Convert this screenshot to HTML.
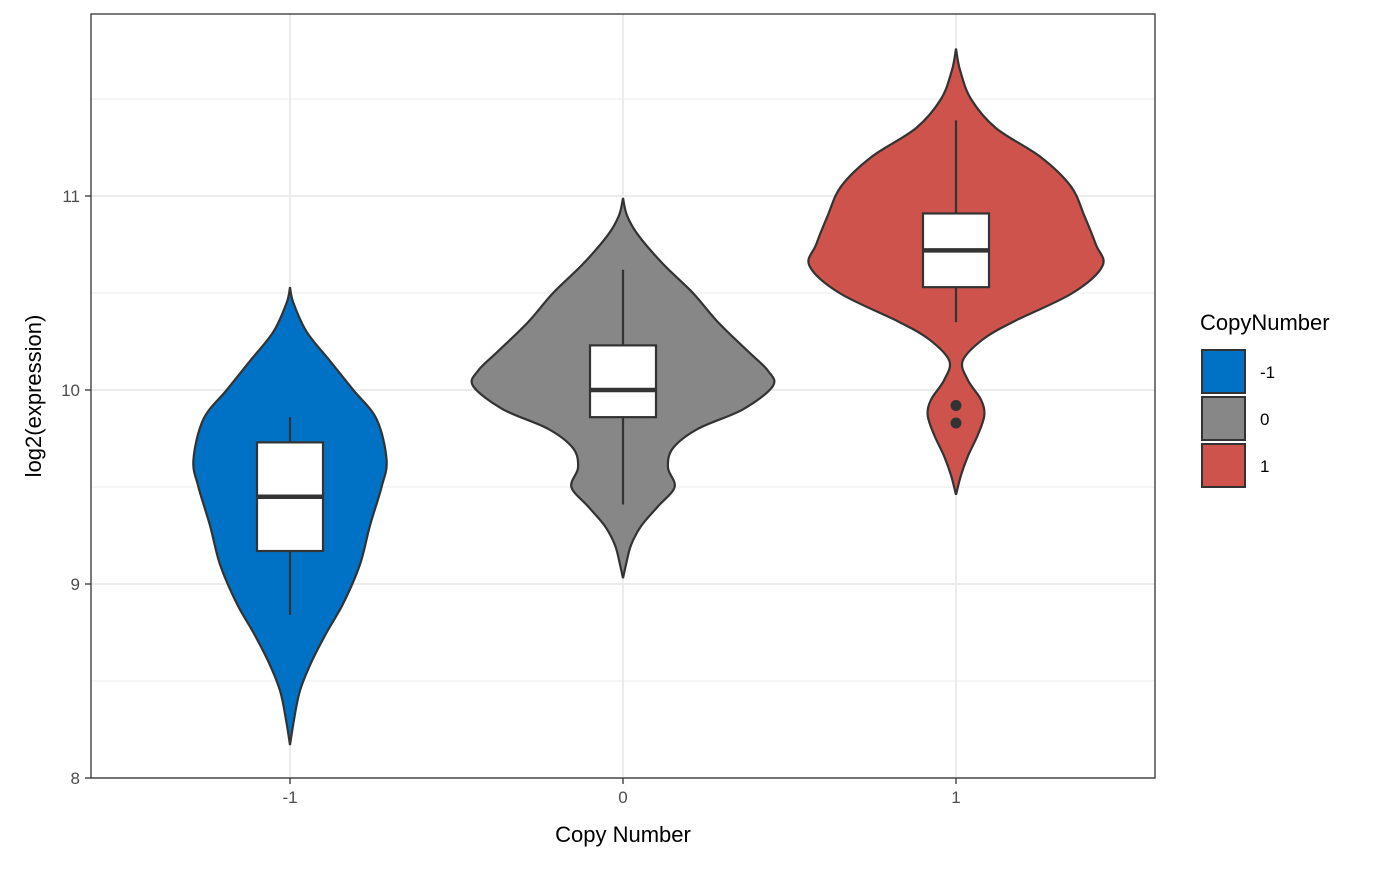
<!DOCTYPE html>
<html><head><meta charset="utf-8"><style>
body{margin:0;background:#fff;}
text{font-family:"Liberation Sans",sans-serif;}
</style></head><body>
<svg id="chart" width="1400" height="865" xmlns="http://www.w3.org/2000/svg"></svg>
<script>
const categories=["-1","0","1"];
const fills=["#0072C6","#878787","#CD534C"];
const yTicks=[8,9,10,11];
// violin profiles: value levels and half-widths (in category units)
const vLevels0=[10.53,10.45,10.3,10.15,10.0,9.85,9.64,9.5,9.3,9.1,8.9,8.75,8.6,8.45,8.3,8.17];
const vWidths0=[0,0.01,0.05,0.12,0.19,0.26,0.29,0.275,0.24,0.21,0.16,0.11,0.065,0.03,0.012,0];
const vLevels1=[10.99,10.9,10.8,10.65,10.5,10.35,10.2,10.1,10.02,9.9,9.8,9.7,9.6,9.5,9.4,9.3,9.2,9.1,9.03];
const vWidths1=[0,0.012,0.045,0.12,0.21,0.285,0.375,0.435,0.45,0.36,0.225,0.15,0.135,0.155,0.105,0.055,0.024,0.009,0];
const vLevels2=[11.76,11.65,11.5,11.35,11.2,11.05,10.9,10.75,10.64,10.5,10.35,10.26,10.15,10.05,9.95,9.87,9.77,9.66,9.56,9.46];
const vWidths2=[0,0.012,0.045,0.12,0.255,0.345,0.385,0.42,0.44,0.35,0.17,0.08,0.02,0.036,0.075,0.085,0.066,0.036,0.015,0];
const q1=[9.17,9.86,10.53], med=[9.45,10.0,10.72], q3=[9.73,10.23,10.91];
const wLo=[8.84,9.41,10.35], wHi=[9.86,10.62,11.39];
const outX=[2,2], outY=[9.92,9.83];

const L=91,R=1155,T=14,B=778;
const yS=v=>390-(v-10)*194;
const xS=i=>290+i*333;
const wS=w=>w*333;
const svg=document.getElementById('chart');
const NS="http://www.w3.org/2000/svg";
function mk(t,a,p){const e=document.createElementNS(NS,t);for(const k in a)e.setAttribute(k,a[k]);(p||svg).appendChild(e);return e;}

mk('rect',{x:L,y:T,width:R-L,height:B-T,fill:'#fff'});
// minor grid
[8.5,9.5,10.5,11.5].forEach(v=>{const g=mk('line',{x1:L,x2:R,y1:yS(v),y2:yS(v),stroke:'#ebebeb','stroke-width':1});

});
yTicks.forEach(v=>{const g=mk('line',{x1:L,x2:R,y1:yS(v),y2:yS(v),stroke:'#ebebeb','stroke-width':2});

});
categories.forEach((c,i)=>{const g=mk('line',{x1:xS(i),x2:xS(i),y1:T,y2:B,stroke:'#ebebeb','stroke-width':2});

});

function smooth(pts){let d='M'+pts[0][0]+','+pts[0][1];
for(let i=0;i<pts.length-1;i++){const p0=pts[i-1]||pts[i],p1=pts[i],p2=pts[i+1],p3=pts[i+2]||p2;
d+=' C'+(p1[0]+(p2[0]-p0[0])/6)+','+(p1[1]+(p2[1]-p0[1])/6)+' '+(p2[0]-(p3[0]-p1[0])/6)+','+(p2[1]-(p3[1]-p1[1])/6)+' '+p2[0]+','+p2[1];}
return d;}
const levels=[vLevels0,vLevels1,vLevels2], widths=[vWidths0,vWidths1,vWidths2];
categories.forEach((c,i)=>{
 const cx=xS(i);
 const right=levels[i].map((v,k)=>[cx+wS(widths[i][k]),yS(v)]);
 const left=levels[i].map((v,k)=>[cx-wS(widths[i][k]),yS(v)]).reverse();
 const d=smooth(right)+' '+smooth(left).replace(/^M/,'L')+'Z';
 const p=mk('path',{d:d,fill:fills[i],stroke:'#333','stroke-width':2.2});
 
 
 const w=mk('line',{x1:cx,x2:cx,y1:yS(wLo[i]),y2:yS(wHi[i]),stroke:'#333','stroke-width':2.2});
 
 
 const b=mk('rect',{x:cx-33,y:yS(q3[i]),width:66,height:yS(q1[i])-yS(q3[i]),fill:'#fff',stroke:'#333','stroke-width':2.2});
 
 
 const m=mk('line',{x1:cx-33,x2:cx+33,y1:yS(med[i]),y2:yS(med[i]),stroke:'#333','stroke-width':4.5});
 
 
});
outY.forEach((v,k)=>{const o=mk('circle',{cx:xS(outX[k]),cy:yS(v),r:5.5,fill:'#333'});

});

const fr=mk('rect',{x:L,y:T,width:R-L,height:B-T,fill:'none',stroke:'#333','stroke-width':1.3});


yTicks.forEach(v=>{mk('line',{x1:L-6,x2:L,y1:yS(v),y2:yS(v),stroke:'#333','stroke-width':1.3});
const t=mk('text',{x:L-11,y:yS(v)+6,'text-anchor':'end','font-size':17,fill:'#4d4d4d'});t.textContent=v;

});
categories.forEach((c,i)=>{mk('line',{x1:xS(i),x2:xS(i),y1:B,y2:B+6,stroke:'#333','stroke-width':1.3});
const t=mk('text',{x:xS(i),y:B+25,'text-anchor':'middle','font-size':17,fill:'#4d4d4d'});t.textContent=c;

});
const xt=mk('text',{x:623,y:842,'text-anchor':'middle','font-size':22,fill:'#000'});xt.textContent='Copy Number';


const yt=mk('text',{x:41,y:396,'text-anchor':'middle','font-size':22,fill:'#000',transform:'rotate(-90 41 396)'});yt.textContent='log2(expression)';


const lt=mk('text',{x:1200,y:330,'font-size':22,fill:'#000'});lt.textContent='CopyNumber';


categories.forEach((c,i)=>{const y=350+i*47;
const k=mk('rect',{x:1202,y:y,width:43,height:43,fill:fills[i],stroke:'#333','stroke-width':2});


const t=mk('text',{x:1260,y:y+28,'font-size':17,fill:'#000'});t.textContent=c;

});
</script>
</body></html>
